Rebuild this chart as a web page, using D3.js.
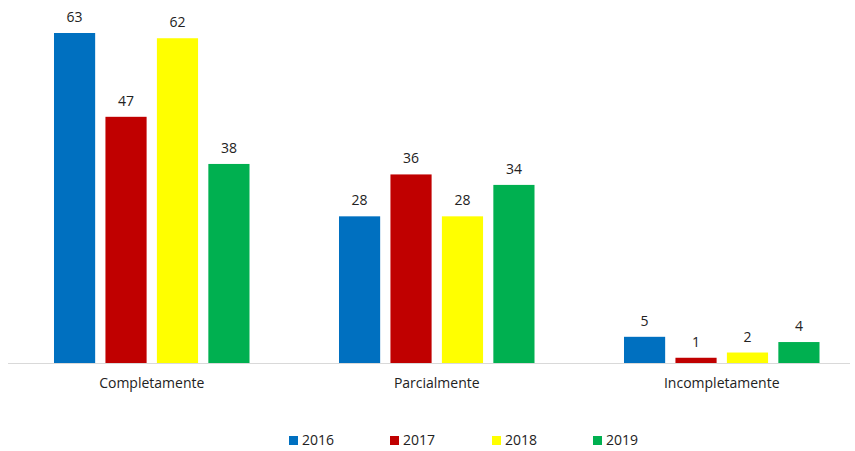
<!DOCTYPE html>
<html><head><meta charset="utf-8">
<script src="https://cdn.jsdelivr.net/npm/d3@7"></script>
<style>body{margin:0;background:#fff}text{font-family:"Open Sans","Noto Sans",sans-serif;fill:#222}</style>
</head><body><svg id="c" width="855" height="451"></svg>
<script>
const categories = ["Completamente","Parcialmente","Incompletamente"];
const years = ["2016","2017","2018","2019"];
const v2016 = [63,28,5];
const v2017 = [47,36,1];
const v2018 = [62,28,2];
const v2019 = [38,34,4];
const colors = ["#0070C0","#C00000","#FFFF00","#00B050"];
const series = [v2016,v2017,v2018,v2019];

const svg = d3.select("#c");
const x0 = d3.scaleBand().domain(categories).range([9.25,864.25]).paddingInner(0.314).paddingOuter(0.157);
const x1 = d3.scaleBand().domain(years).range([0,x0.bandwidth()]).paddingInner(0.2).paddingOuter(0);
const y = d3.scaleLinear().domain([0,63]).range([363,33]);

svg.append("line").attr("x1",8).attr("x2",850).attr("y1",y(0)+0.5).attr("y2",y(0)+0.5).attr("stroke","#d9d9d9");

categories.forEach((c,i)=>{
  const g = svg.append("g").attr("transform",`translate(${x0(c)},0)`);
  years.forEach((yr,j)=>{
    const v = series[j][i];
    g.append("rect").attr("x",x1(yr)).attr("y",y(v)).attr("width",x1.bandwidth()).attr("height",y(0)-y(v)).attr("fill",colors[j]);
    g.append("text").attr("x",x1(yr)+x1.bandwidth()/2).attr("y",y(v)-11).attr("text-anchor","middle").attr("font-size",14).text(v);
  });
  svg.append("text").attr("x",x0(c)+x0.bandwidth()/2).attr("y",388).attr("text-anchor","middle").attr("font-size",14).text(c);
});

const lx = [289,390,492,593];
years.forEach((yr,j)=>{
  svg.append("rect").attr("x",lx[j]).attr("y",436).attr("width",9).attr("height",9).attr("fill",colors[j]);
  svg.append("text").attr("x",lx[j]+13).attr("y",445).attr("font-size",14).text(yr);
});
</script></body></html>
